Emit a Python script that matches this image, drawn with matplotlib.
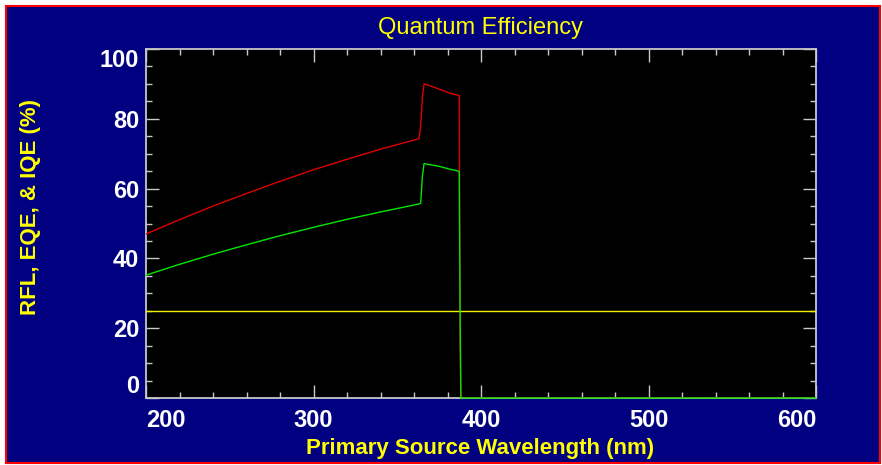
import matplotlib
matplotlib.use("Agg")
import matplotlib.pyplot as plt
from matplotlib.patches import Rectangle
from matplotlib.ticker import MultipleLocator

# Wavelength (nm) and reflectance / efficiency curves (%)
wl_rfl = [200, 220, 240, 260, 280, 300, 320, 340, 360, 363, 364, 365, 366,
          370, 375, 381, 386, 387, 387.5, 388, 600]
rfl = [47.0, 51.1, 55.0, 58.6, 62.1, 65.4, 68.4, 71.3, 73.9, 74.3, 78.0, 86.0, 90.0,
       89.4, 88.5, 87.4, 86.8, 86.6, 16.0, 0.0, 0.0]

wl_eqe = [200, 220, 240, 260, 280, 300, 320, 340, 360, 363, 364, 365, 366,
          370, 375, 381, 386, 387, 387.6, 388, 600]
eqe = [35.2, 38.3, 41.2, 43.9, 46.5, 48.9, 51.2, 53.3, 55.3, 55.6, 55.8, 63.5, 67.2,
       66.8, 66.4, 65.6, 65.1, 64.8, 20.0, 0.0, 0.0]

wl_iqe = [200, 600]
iqe = [25.0, 25.0]

x_ticks = [200, 300, 400, 500, 600]
y_ticks = [0, 20, 40, 60, 80, 100]

NAVY = "#000080"
AXCOL = "#c8c8c8"

fig = plt.figure(figsize=(8.82, 4.65), dpi=100, facecolor="white")
W, H = 882, 465

# framed navy panel behind everything
fig.patches.append(Rectangle((6 / W, 2 / H), 874 / W, 457 / H,
                             transform=fig.transFigure, facecolor=NAVY,
                             edgecolor="#ff0000", linewidth=1.5, zorder=-10))

ax = fig.add_axes([146 / W, 1 - 398 / H, (816 - 146) / W, (398 - 49) / H])
ax.set_zorder(1)
ax.set_facecolor("black")

ax.plot(wl_rfl, rfl, color="#e00000", lw=1.0, zorder=3)
ax.plot(wl_iqe, iqe, color="#f0f000", lw=1.0, zorder=3)
ax.plot(wl_eqe, eqe, color="#00e800", lw=1.0, zorder=4, clip_on=False)

ax.set_xlim(200, 600)
ax.set_ylim(0, 100)
ax.set_xticks(x_ticks)
ax.set_yticks(y_ticks)
ax.xaxis.set_minor_locator(MultipleLocator(20))
ax.yaxis.set_minor_locator(MultipleLocator(5))

for s in ax.spines.values():
    s.set_color(AXCOL)
    s.set_linewidth(1.3)

ax.tick_params(which="both", direction="in", top=True, right=True,
               color=AXCOL, width=1.0)
ax.tick_params(which="major", length=9.5)
ax.tick_params(which="minor", length=4.5)
ax.tick_params(axis="x", which="major", pad=8)
ax.tick_params(axis="y", which="major", pad=5)

tick_font = dict(family="Liberation Sans", weight="bold", size=17, color="white")
ax.set_xticklabels([str(v) for v in x_ticks], **tick_font)
ax.set_yticklabels([str(v) for v in y_ticks], **tick_font)
xl = ax.get_xticklabels()
xl[0].set_ha("left")
xl[-1].set_ha("right")
yl = ax.get_yticklabels()
yl[0].set_va("bottom")
yl[-1].set_va("top")

lab_font = dict(family="Liberation Sans", weight="bold", size=16, color="#ffff00")
fig.text(480 / W, 1 - 448 / H, "Primary Source Wavelength (nm)",
         ha="center", va="center", **lab_font)
fig.text(31 / W, 1 - 207 / H, "RFL, EQE, & IQE (%)", rotation=90,
         ha="center", va="center", **lab_font)
fig.text(480 / W, 1 - 28 / H, "Quantum Efficiency", ha="center", va="center",
         family="Liberation Sans", weight="medium", size=17, color="#ffff00")

fig.savefig("out.png", dpi=100, facecolor="white")
